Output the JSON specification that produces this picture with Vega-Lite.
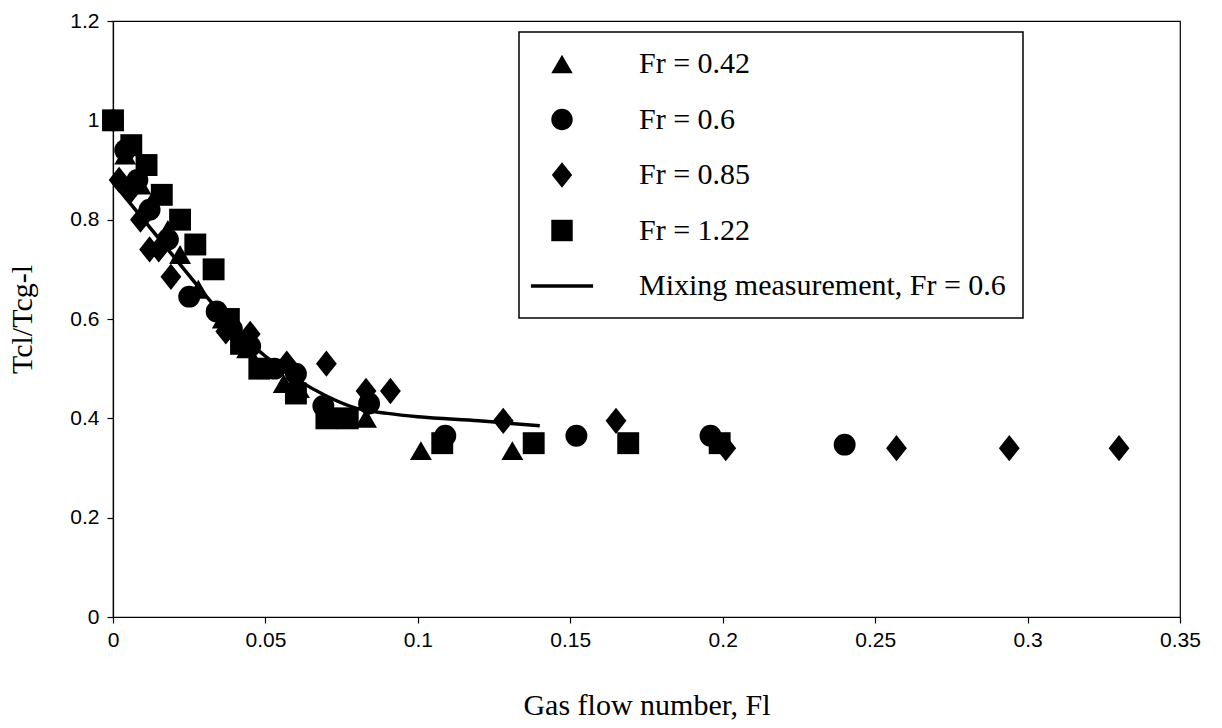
{
  "$schema": "https://vega.github.io/schema/vega-lite/v6.json",
  "autosize": {"type": "none"},
  "padding": {"left": 113, "top": 21, "right": 42, "bottom": 111},
  "width": 1067,
  "height": 596,
  "background": "white",
  "config": {
    "view": {"stroke": "black", "strokeWidth": 1.2},
    "legend": {"strokeWidth": 1.5},
    "axis": {
      "domainColor": "black", "domainWidth": 1.2, "tickColor": "black", "tickSize": 6, "tickWidth": 1.2,
      "grid": false, "labelFont": "Liberation Sans", "labelFontSize": 21, "labelColor": "black",
      "titleFont": "Liberation Serif", "titleFontSize": 30, "titleFontWeight": "normal", "titleColor": "black"
    }
  },
  "data": {"values": [
    {"series": "Fr = 0.42", "fl": 0.0, "tc": 1.0},
    {"series": "Fr = 0.42", "fl": 0.004, "tc": 0.93},
    {"series": "Fr = 0.42", "fl": 0.009, "tc": 0.87},
    {"series": "Fr = 0.42", "fl": 0.014, "tc": 0.85},
    {"series": "Fr = 0.42", "fl": 0.018, "tc": 0.78},
    {"series": "Fr = 0.42", "fl": 0.022, "tc": 0.73},
    {"series": "Fr = 0.42", "fl": 0.028, "tc": 0.66},
    {"series": "Fr = 0.42", "fl": 0.036, "tc": 0.6},
    {"series": "Fr = 0.42", "fl": 0.044, "tc": 0.54},
    {"series": "Fr = 0.42", "fl": 0.05, "tc": 0.5},
    {"series": "Fr = 0.42", "fl": 0.056, "tc": 0.47},
    {"series": "Fr = 0.42", "fl": 0.061, "tc": 0.46},
    {"series": "Fr = 0.42", "fl": 0.083, "tc": 0.4},
    {"series": "Fr = 0.42", "fl": 0.101, "tc": 0.335},
    {"series": "Fr = 0.42", "fl": 0.131, "tc": 0.335},
    {"series": "Fr = 0.6", "fl": 0.0, "tc": 1.0},
    {"series": "Fr = 0.6", "fl": 0.004, "tc": 0.94},
    {"series": "Fr = 0.6", "fl": 0.008, "tc": 0.88},
    {"series": "Fr = 0.6", "fl": 0.012, "tc": 0.82},
    {"series": "Fr = 0.6", "fl": 0.018, "tc": 0.76},
    {"series": "Fr = 0.6", "fl": 0.025, "tc": 0.645},
    {"series": "Fr = 0.6", "fl": 0.034, "tc": 0.615},
    {"series": "Fr = 0.6", "fl": 0.039, "tc": 0.58},
    {"series": "Fr = 0.6", "fl": 0.045, "tc": 0.545},
    {"series": "Fr = 0.6", "fl": 0.053, "tc": 0.5},
    {"series": "Fr = 0.6", "fl": 0.06, "tc": 0.49},
    {"series": "Fr = 0.6", "fl": 0.069, "tc": 0.425},
    {"series": "Fr = 0.6", "fl": 0.084, "tc": 0.43},
    {"series": "Fr = 0.6", "fl": 0.109, "tc": 0.365},
    {"series": "Fr = 0.6", "fl": 0.152, "tc": 0.365},
    {"series": "Fr = 0.6", "fl": 0.196, "tc": 0.365},
    {"series": "Fr = 0.6", "fl": 0.24, "tc": 0.347},
    {"series": "Fr = 0.85", "fl": 0.002, "tc": 0.88},
    {"series": "Fr = 0.85", "fl": 0.006, "tc": 0.86},
    {"series": "Fr = 0.85", "fl": 0.009, "tc": 0.8},
    {"series": "Fr = 0.85", "fl": 0.012, "tc": 0.74},
    {"series": "Fr = 0.85", "fl": 0.015, "tc": 0.74},
    {"series": "Fr = 0.85", "fl": 0.019, "tc": 0.685},
    {"series": "Fr = 0.85", "fl": 0.037, "tc": 0.575},
    {"series": "Fr = 0.85", "fl": 0.045, "tc": 0.57},
    {"series": "Fr = 0.85", "fl": 0.057, "tc": 0.51},
    {"series": "Fr = 0.85", "fl": 0.07, "tc": 0.51},
    {"series": "Fr = 0.85", "fl": 0.083, "tc": 0.455},
    {"series": "Fr = 0.85", "fl": 0.091, "tc": 0.455},
    {"series": "Fr = 0.85", "fl": 0.128, "tc": 0.395},
    {"series": "Fr = 0.85", "fl": 0.165, "tc": 0.395},
    {"series": "Fr = 0.85", "fl": 0.201, "tc": 0.34},
    {"series": "Fr = 0.85", "fl": 0.257, "tc": 0.34},
    {"series": "Fr = 0.85", "fl": 0.294, "tc": 0.34},
    {"series": "Fr = 0.85", "fl": 0.33, "tc": 0.34},
    {"series": "Fr = 1.22", "fl": 0.0, "tc": 1.0},
    {"series": "Fr = 1.22", "fl": 0.006, "tc": 0.95},
    {"series": "Fr = 1.22", "fl": 0.011, "tc": 0.91},
    {"series": "Fr = 1.22", "fl": 0.016, "tc": 0.85},
    {"series": "Fr = 1.22", "fl": 0.022, "tc": 0.8},
    {"series": "Fr = 1.22", "fl": 0.027, "tc": 0.75},
    {"series": "Fr = 1.22", "fl": 0.033, "tc": 0.7},
    {"series": "Fr = 1.22", "fl": 0.038, "tc": 0.6},
    {"series": "Fr = 1.22", "fl": 0.042, "tc": 0.55},
    {"series": "Fr = 1.22", "fl": 0.048, "tc": 0.5},
    {"series": "Fr = 1.22", "fl": 0.06, "tc": 0.45},
    {"series": "Fr = 1.22", "fl": 0.07, "tc": 0.4},
    {"series": "Fr = 1.22", "fl": 0.077, "tc": 0.4},
    {"series": "Fr = 1.22", "fl": 0.108, "tc": 0.35},
    {"series": "Fr = 1.22", "fl": 0.138, "tc": 0.35},
    {"series": "Fr = 1.22", "fl": 0.169, "tc": 0.35},
    {"series": "Fr = 1.22", "fl": 0.199, "tc": 0.35},
    {"series": "Mixing measurement, Fr = 0.6", "fl": 0.0, "tc": 0.875},
    {"series": "Mixing measurement, Fr = 0.6", "fl": 0.01, "tc": 0.8},
    {"series": "Mixing measurement, Fr = 0.6", "fl": 0.02, "tc": 0.725},
    {"series": "Mixing measurement, Fr = 0.6", "fl": 0.03, "tc": 0.65},
    {"series": "Mixing measurement, Fr = 0.6", "fl": 0.04, "tc": 0.58},
    {"series": "Mixing measurement, Fr = 0.6", "fl": 0.05, "tc": 0.525},
    {"series": "Mixing measurement, Fr = 0.6", "fl": 0.06, "tc": 0.48},
    {"series": "Mixing measurement, Fr = 0.6", "fl": 0.07, "tc": 0.445},
    {"series": "Mixing measurement, Fr = 0.6", "fl": 0.08, "tc": 0.42},
    {"series": "Mixing measurement, Fr = 0.6", "fl": 0.09, "tc": 0.41},
    {"series": "Mixing measurement, Fr = 0.6", "fl": 0.1, "tc": 0.403},
    {"series": "Mixing measurement, Fr = 0.6", "fl": 0.12, "tc": 0.395},
    {"series": "Mixing measurement, Fr = 0.6", "fl": 0.14, "tc": 0.385}
  ]},
  "layer": [
    {
      "transform": [{"filter": "datum.series === 'Mixing measurement, Fr = 0.6'"}],
      "mark": {"type": "line", "color": "black", "strokeWidth": 3.5, "interpolate": "monotone"},
      "encoding": {
        "x": {"field": "fl", "type": "quantitative"},
        "y": {"field": "tc", "type": "quantitative"}
      }
    },
    {
      "transform": [{"filter": "datum.series !== 'Mixing measurement, Fr = 0.6'"}],
      "mark": {"type": "point", "filled": true, "color": "black", "opacity": 1, "size": 480},
      "encoding": {
        "x": {"field": "fl", "type": "quantitative", "title": "Gas flow number, Fl",
          "scale": {"domain": [0, 0.35], "nice": false, "zero": false},
          "axis": {"values": [0, 0.05, 0.1, 0.15, 0.2, 0.25, 0.3, 0.35], "format": "~g", "labelPadding": 6, "titlePadding": 40, "labelFlush": false}},
        "y": {"field": "tc", "type": "quantitative", "title": "Tcl/Tcg-l",
          "scale": {"domain": [0, 1.2], "nice": false},
          "axis": {"values": [0, 0.2, 0.4, 0.6, 0.8, 1, 1.2], "format": "~g", "labelPadding": 8, "titlePadding": 32}},
        "shape": {"field": "series", "type": "nominal",
          "scale": {"domain": ["Fr = 0.42", "Fr = 0.6", "Fr = 0.85", "Fr = 1.22", "Mixing measurement, Fr = 0.6"],
                    "range": ["triangle-up", "circle", "M0,-1.2L0.95,0L0,1.2L-0.95,0Z", "square", "M-2.9,-0.17H2.9V0.17H-2.9Z"]},
          "legend": {
            "title": null, "orient": "none", "legendX": 406, "legendY": 11,
            "strokeColor": "black", "fillColor": "white", "cornerRadius": 0,
            "padding": 17, "symbolOffset": 11, "symbolSize": 460, "symbolFillColor": "black",
            "symbolStrokeWidth": 0, "symbolOpacity": 1,
            "labelFont": "Liberation Serif", "labelFontSize": 30, "labelColor": "black",
            "labelOffset": 62, "rowPadding": 25.5, "labelLimit": 600
          }}
      }
    }
  ]
}
